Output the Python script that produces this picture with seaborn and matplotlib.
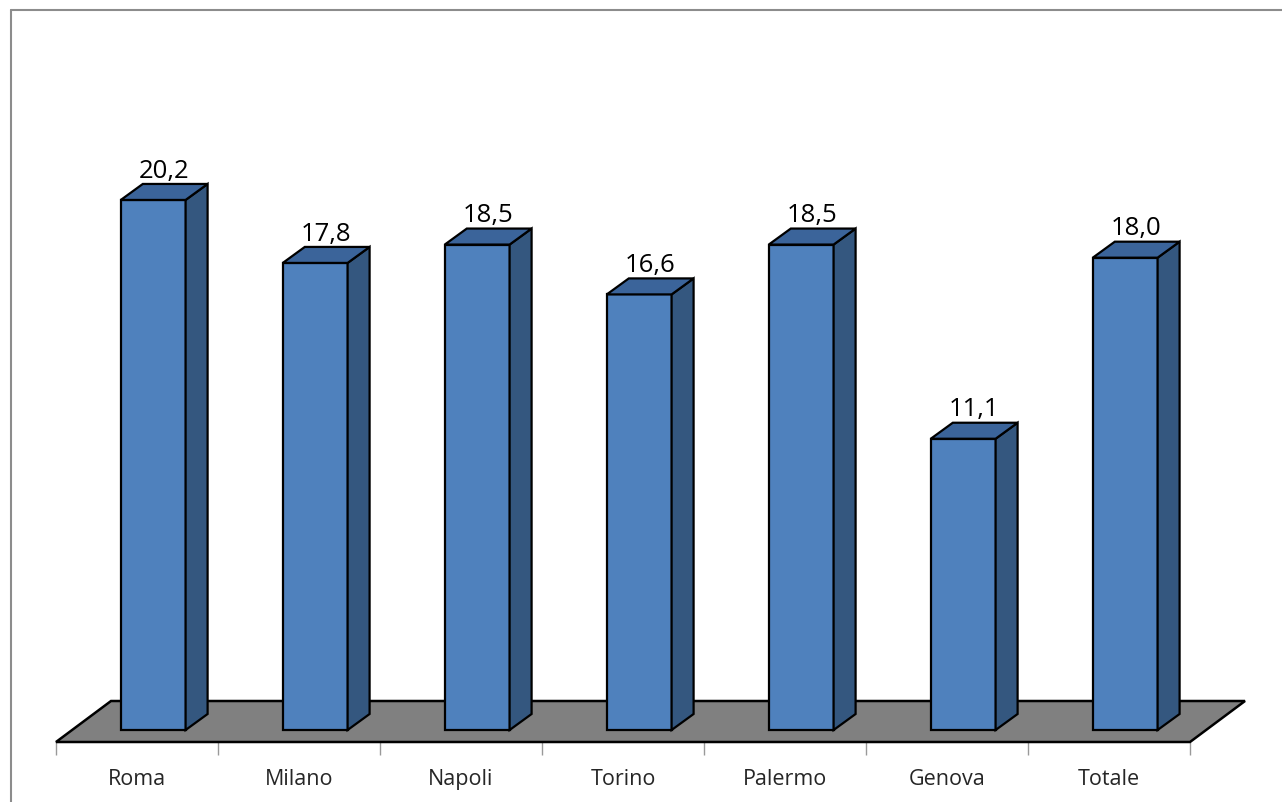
import matplotlib
matplotlib.use("Agg")
import matplotlib.pyplot as plt
from matplotlib.patches import Polygon
from matplotlib.lines import Line2D
import pandas as pd
import seaborn as sns

# Data
cities = ["Roma", "Milano", "Napoli", "Torino", "Palermo", "Genova", "Totale"]
values = [20.2, 17.8, 18.5, 16.6, 18.5, 11.1, 18.0]
labels = ["20,2", "17,8", "18,5", "16,6", "18,5", "11,1", "18,0"]

df = pd.DataFrame({"city": cities, "value": values})

sns.set_style("white")
plt.rcParams["font.family"] = ["Open Sans", "DejaVu Sans"]

W, H = 1282, 803
fig = plt.figure(figsize=(W / 100, H / 100), dpi=100)

# pixel layout of the plot area
left_px, right_px, bottom_px, top_px = 56, 1190, 743, 11
ax = fig.add_axes([left_px / W, (H - bottom_px) / H,
                   (right_px - left_px) / W, (bottom_px - top_px) / H])

px_per_unit = 26.24          # vertical pixels per value unit
px_per_cat = (right_px - left_px) / len(cities)
zero_px = 731
ax.set_xlim(-0.5, len(cities) - 0.5)
ax.set_ylim(-(bottom_px - zero_px) / px_per_unit, (zero_px - top_px) / px_per_unit)

front = "#4F81BD"
side = "#34577F"
top = "#3B649A"

sns.barplot(data=df, x="city", y="value", order=cities, width=0.4,
            color=front, saturation=1, edgecolor="black", linewidth=1.6,
            ax=ax, zorder=3)

# depth offsets (in data units)
bar_dx, bar_dy = 22 / px_per_cat, 16 / px_per_unit
floor_dx, floor_dy = 55 / px_per_cat, 41 / px_per_unit
shift = 0.1

# floor
y0 = ax.get_ylim()[0]
x0, x1 = -0.5, len(cities) - 0.5
ax.add_patch(Polygon([(x0, y0), (x1, y0), (x1 + floor_dx, y0 + floor_dy),
                      (x0 + floor_dx, y0 + floor_dy)], closed=True,
                     facecolor="#808080", edgecolor="black", linewidth=1.8,
                     clip_on=False, zorder=1))

for bar, lab in zip(ax.patches, labels):
    bar.set_x(bar.get_x() + shift)
    bx, bw, bh = bar.get_x(), bar.get_width(), bar.get_height()
    ax.add_patch(Polygon([(bx + bw, 0), (bx + bw + bar_dx, bar_dy),
                          (bx + bw + bar_dx, bh + bar_dy), (bx + bw, bh)],
                         closed=True, facecolor=side, edgecolor="black",
                         linewidth=1.6, zorder=3))
    ax.add_patch(Polygon([(bx, bh), (bx + bw, bh), (bx + bw + bar_dx, bh + bar_dy),
                          (bx + bar_dx, bh + bar_dy)], closed=True,
                         facecolor=top, edgecolor="black", linewidth=1.6, zorder=3))
    ax.text(bx + bw / 2 + bar_dx / 2, bh + bar_dy + 0.28, lab,
            ha="center", va="baseline", fontsize=18.5, color="black", zorder=4)

for s in ax.spines.values():
    s.set_visible(False)
ax.set_yticks([])
ax.set_xlabel("")
ax.set_ylabel("")
ax.set_xticks(range(len(cities)))
ax.set_xticklabels(cities, fontsize=15.5)
ax.set_xticks([i - 0.5 for i in range(len(cities) + 1)], minor=True)
ax.tick_params(axis="x", which="major", length=0, pad=19)
ax.tick_params(axis="x", which="minor", length=9, width=1, color="#999999")
ax.xaxis.set_ticks_position("bottom")

# outer frame (only top and left edges visible)
fx, fy = 10.5 / W, 1 - 11 / H
fig.add_artist(Line2D([fx, fx], [0, fy], transform=fig.transFigure,
                      color="#8c8c8c", linewidth=1.5))
fig.add_artist(Line2D([fx, 1], [fy, fy], transform=fig.transFigure,
                      color="#8c8c8c", linewidth=1.5))

fig.savefig("out.png", dpi=100)
